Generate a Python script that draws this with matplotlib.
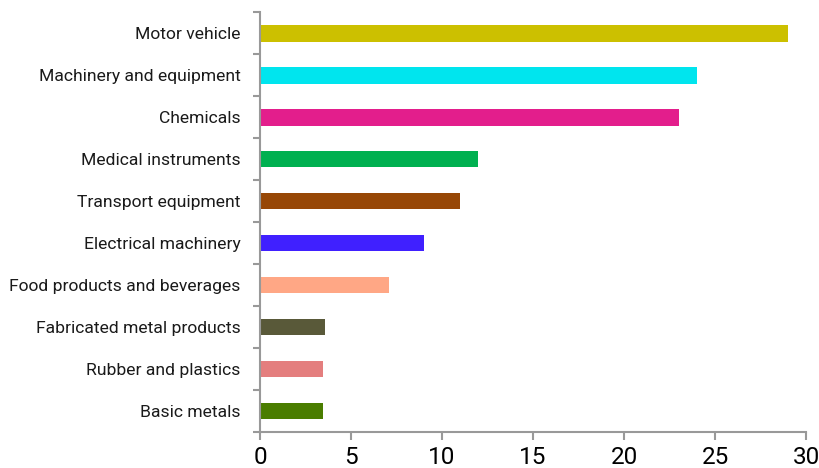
import matplotlib.pyplot as plt
import numpy as np

# data, bottom to top
sectors = ["Basic metals", "Rubber and plastics", "Fabricated metal products",
           "Food products and beverages", "Electrical machinery", "Transport equipment",
           "Medical instruments", "Chemicals", "Machinery and equipment", "Motor vehicle"]
values = [3.45, 3.45, 3.55, 7.1, 9.0, 11.0, 12.0, 23.0, 24.0, 29.0]
colors = ["#4a7d00", "#e47e7e", "#595939", "#ffa785", "#4020ff", "#974706",
          "#00b050", "#e31e8c", "#00e5ee", "#ccc000"]

plt.rcParams['font.family'] = ['Roboto', 'DejaVu Sans']

fig = plt.figure(figsize=(8.2, 4.68), dpi=100)
ax = fig.add_axes([0.317, 0.077, 0.666, 0.897])

y = np.arange(len(sectors))
ax.barh(y, values, height=0.4, color=colors)

ax.set_xlim(0, 30)
ax.set_ylim(-0.5, len(sectors) - 0.5)
ax.set_xticks(np.arange(0, 31, 5))
ax.set_yticks(y)
ax.set_yticklabels(sectors, fontsize=12.6, color="#1a1a1a")
ax.set_yticks(np.arange(-0.5, len(sectors), 1), minor=True)
ax.tick_params(axis='y', which='major', length=0, pad=14)
ax.tick_params(axis='y', which='minor', length=5, width=1.5, color="#999999")
ax.tick_params(axis='x', length=6, width=1.5, color="#999999", labelsize=17.5, pad=4)

for s in ["top", "right"]:
    ax.spines[s].set_visible(False)
for s in ["left", "bottom"]:
    ax.spines[s].set_color("#999999")
    ax.spines[s].set_linewidth(1.5)

fig.savefig("out.png", dpi=100)
